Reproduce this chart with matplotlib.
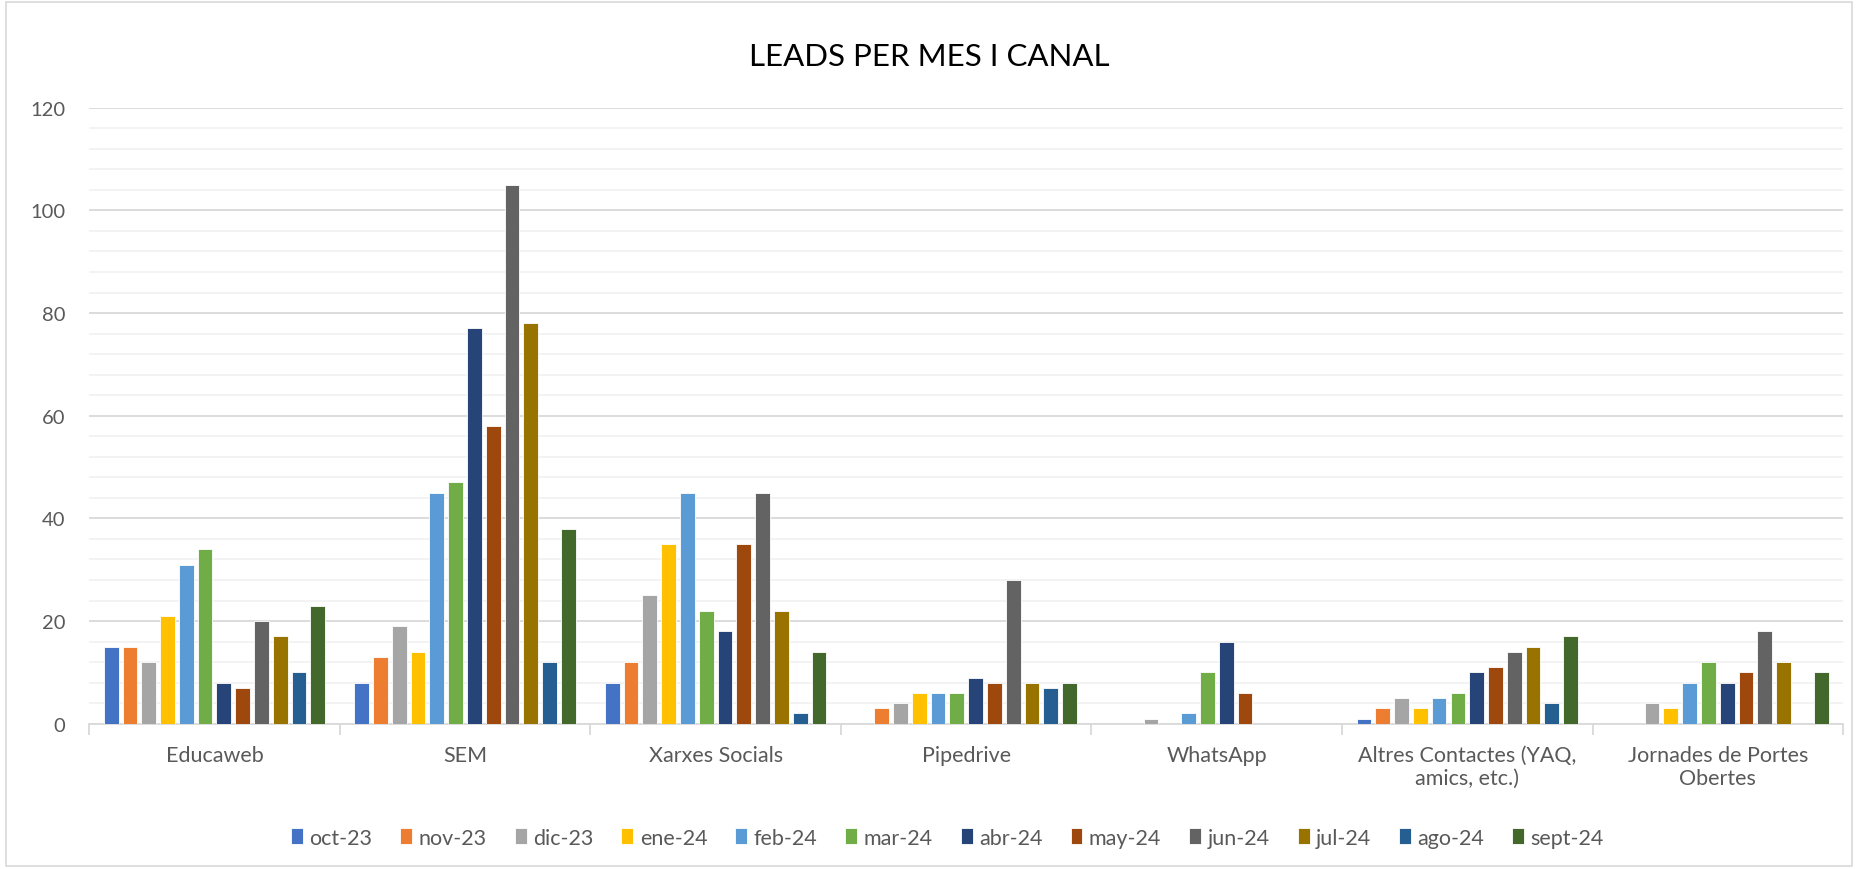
import numpy as np
import matplotlib.pyplot as plt
from matplotlib.patches import Rectangle

plt.rcParams['font.family'] = ['Lato', 'DejaVu Sans']

canals = ['Educaweb', 'SEM', 'Xarxes Socials', 'Pipedrive', 'WhatsApp',
          'Altres Contactes (YAQ,\namics, etc.)', 'Jornades de Portes\nObertes']
mesos = ['oct-23', 'nov-23', 'dic-23', 'ene-24', 'feb-24', 'mar-24',
         'abr-24', 'may-24', 'jun-24', 'jul-24', 'ago-24', 'sept-24']

educaweb = [15, 15, 12, 21, 31, 34, 8, 7, 20, 17, 10, 23]
sem = [8, 13, 19, 14, 45, 47, 77, 58, 105, 78, 12, 38]
xarxes = [8, 12, 25, 35, 45, 22, 18, 35, 45, 22, 2, 14]
pipedrive = [0, 3, 4, 6, 6, 6, 9, 8, 28, 8, 7, 8]
whatsapp = [0, 0, 1, 0, 2, 10, 16, 6, 0, 0, 0, 0]
altres = [1, 3, 5, 3, 5, 6, 10, 11, 14, 15, 4, 17]
jornades = [0, 0, 4, 3, 8, 12, 8, 10, 18, 12, 0, 10]

colors = ['#4472C4', '#ED7D31', '#A5A5A5', '#FFC000', '#5B9BD5', '#70AD47',
          '#264478', '#9E480E', '#636363', '#997300', '#255E91', '#43682B']

data = np.array([educaweb, sem, xarxes, pipedrive, whatsapp, altres, jornades])

fig = plt.figure(figsize=(18.58, 8.70), dpi=100)
ax = fig.add_axes([0.048, 0.167, 0.944, 0.708])

x = np.arange(len(canals))
slot = 0.075
w = 0.059
for i, mes in enumerate(mesos):
    ax.bar(x + (i - 5.5) * slot, data[:, i], width=w, color=colors[i],
           label=mes, edgecolor='white', linewidth=0.6, zorder=3)

ax.set_xlim(-0.5, len(canals) - 0.5)
ax.set_ylim(0, 120)
ax.set_yticks(range(0, 121, 20))
ax.set_yticks(range(0, 121, 4), minor=True)
ax.grid(axis='y', which='major', color='#D9D9D9', linewidth=1.3, zorder=0)
ax.grid(axis='y', which='minor', color='#F2F2F2', linewidth=1.3, zorder=0)
ax.tick_params(axis='y', which='both', length=0, labelsize=14.5, labelcolor='#595959', pad=17)

ax.set_xticks(x)
ax.set_xticklabels(canals, fontsize=15.5, color='#595959')
ax.set_xticks(np.arange(-0.5, len(canals)), minor=True)
ax.tick_params(axis='x', which='major', length=0, pad=15)
ax.tick_params(axis='x', which='minor', length=8, color='#D9D9D9', width=1.3)

for s in ['top', 'right', 'left']:
    ax.spines[s].set_visible(False)
ax.spines['bottom'].set_color('#D9D9D9')
ax.spines['bottom'].set_linewidth(1.3)

fig.text(0.5, 0.935, 'LEADS PER MES I CANAL', ha='center', va='center',
         fontsize=22.5, color='#000000')

fig.legend(loc='center', bbox_to_anchor=(0.51, 0.036), ncol=12, frameon=False,
           fontsize=15.5, handlelength=0.55, handleheight=0.8, handletextpad=0.3,
           columnspacing=1.3, labelcolor='#595959')

fig.patches.append(Rectangle((0.003, 0.004), 0.994, 0.992, transform=fig.transFigure,
                             fill=False, edgecolor='#D9D9D9', linewidth=1.2))

fig.savefig('out.png', dpi=100)
